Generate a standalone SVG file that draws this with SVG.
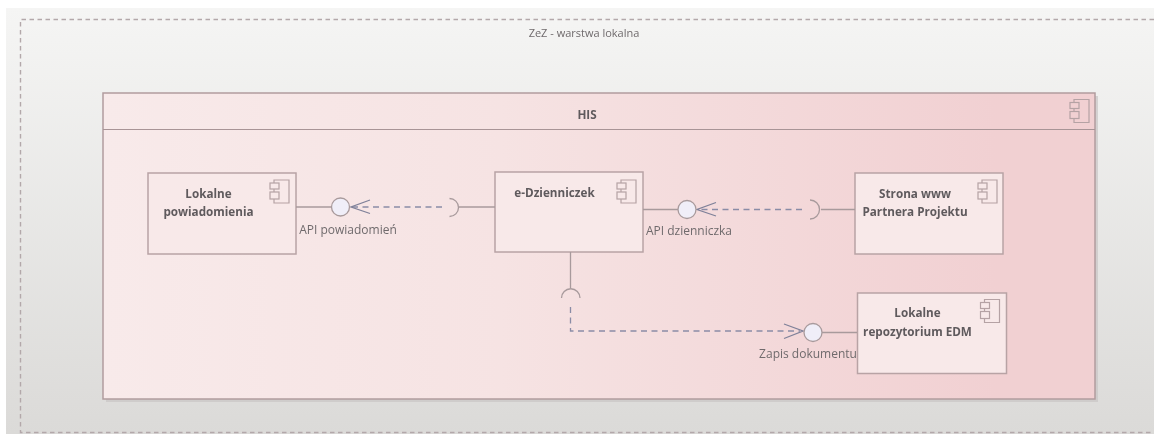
<svg xmlns="http://www.w3.org/2000/svg" width="1154" height="434" viewBox="0 0 1154 434">
<style>
text{font-family:"Open Sans","Noto Sans","Liberation Sans",sans-serif;fill:#6f6a6c;font-size:12px;text-anchor:middle}
.z{font-size:11px}
.b{font-weight:700;fill:#5f5a5d;font-size:11.7px}
.n{fill:#f8e9e9;stroke:#b8a3a5;stroke-width:1.5}
.ic{fill:none;stroke:#b5a2a4;stroke-width:1.2}
.l{fill:none;stroke:#a89a9c;stroke-width:1.3}
.d{fill:none;stroke:#8a8ca6;stroke-width:1.3;stroke-dasharray:6 4.5}
.a{fill:none;stroke:#7f8199;stroke-width:1.3}
.c{fill:#f0eef8;stroke:#a89a9c;stroke-width:1.3}
</style>
<defs>
<linearGradient id="bg" x1="0" y1="0" x2="0" y2="1"><stop offset="0" stop-color="#f5f5f4"/><stop offset="1" stop-color="#dbdad8"/></linearGradient>
<linearGradient id="his" x1="0" y1="0" x2="1" y2="0"><stop offset="0" stop-color="#f8eaea"/><stop offset="0.4" stop-color="#f6e3e3"/><stop offset="0.9" stop-color="#f1d0d2"/><stop offset="1" stop-color="#f1d0d2"/></linearGradient>
<filter id="soft" x="-2%" y="-2%" width="104%" height="104%"><feGaussianBlur stdDeviation="0.5"/></filter>
<g id="icon"><path class="ic" d="M-15 3V0H0V23H-15V19M-15 9V12"/><rect class="ic" x="-19" y="3" width="9" height="6"/><rect class="ic" x="-19" y="12" width="9" height="7"/></g>
</defs>
<rect width="1154" height="434" fill="#fff"/>
<g filter="url(#soft)">
<rect x="6" y="8" width="1148" height="426" fill="url(#bg)"/>
<g id="zez">
<path d="M1154 19.500H20.500V432.500H1154" fill="none" stroke="#b3a8aa" stroke-width="1.400" stroke-dasharray="4.500 3.500"/>
<text class="z" x="584" y="37">ZeZ - warstwa lokalna</text>
</g>
<g id="his-node">
<rect x="106" y="96" width="992" height="306" fill="#c9c5c4" opacity="0.7"/>
<rect x="103" y="93" width="992" height="306" fill="url(#his)" stroke="#b19c9e" stroke-width="1.500"/>
<path d="M103 129.500H1095" stroke="#a89496" stroke-width="1.200"/>
<text class="b" x="587" y="119">HIS</text>
<use href="#icon" x="1089" y="99.500"/>
</g>
<g id="lokalne-powiadomienia">
<rect class="n" x="148" y="173" width="148" height="81"/>
<text class="b" x="208.500" y="198">Lokalne</text>
<text class="b" x="208.500" y="216">powiadomienia</text>
<use href="#icon" x="289" y="180"/>
</g>
<g id="e-dzienniczek">
<rect class="n" x="495" y="172" width="148" height="80"/>
<text class="b" x="554.500" y="197">e-Dzienniczek</text>
<use href="#icon" x="636" y="180"/>
</g>
<g id="strona-www">
<rect class="n" x="855" y="173" width="148" height="81"/>
<text class="b" x="915" y="198">Strona www</text>
<text class="b" x="915" y="216">Partnera Projektu</text>
<use href="#icon" x="997" y="180"/>
</g>
<g id="lokalne-repozytorium">
<rect class="n" x="857.500" y="293" width="149" height="80.500"/>
<text class="b" x="917.500" y="317">Lokalne</text>
<text class="b" x="917.500" y="336">repozytorium EDM</text>
<use href="#icon" x="999.500" y="299.500"/>
</g>
<g id="connectors">
<path class="l" d="M296 207H332"/>
<path class="l" d="M459 207H495"/>
<path class="l" d="M449.500 198.500A9 9 0 0 1 449.500 216.500"/>
<path class="d" d="M442 207H352"/>
<path class="a" d="M370 200L351 207L370 213.500"/>
<circle class="c" cx="340.500" cy="207" r="9"/>
<path class="l" d="M643 209.500H678"/>
<path class="l" d="M821 209.500H855"/>
<path class="l" d="M810 200A9.500 9.500 0 0 1 810 219"/>
<path class="d" d="M802 209.500H698"/>
<path class="a" d="M716 202.500L697 209.500L716 216"/>
<circle class="c" cx="687" cy="209.500" r="9"/>
<path class="l" d="M570.500 252V288"/>
<path class="l" d="M561.500 298A9 9 0 0 1 580 298"/>
<path class="d" d="M570.500 307V331H800"/>
<path class="a" d="M784 324L803 331L784 338.500"/>
<circle class="c" cx="813" cy="332.500" r="9"/>
<path class="l" d="M822 332.500H857"/>
<text x="348" y="234">API powiadomień</text>
<text x="689" y="235">API dzienniczka</text>
<text x="808" y="358">Zapis dokumentu</text>
</g>
</g>
</svg>
